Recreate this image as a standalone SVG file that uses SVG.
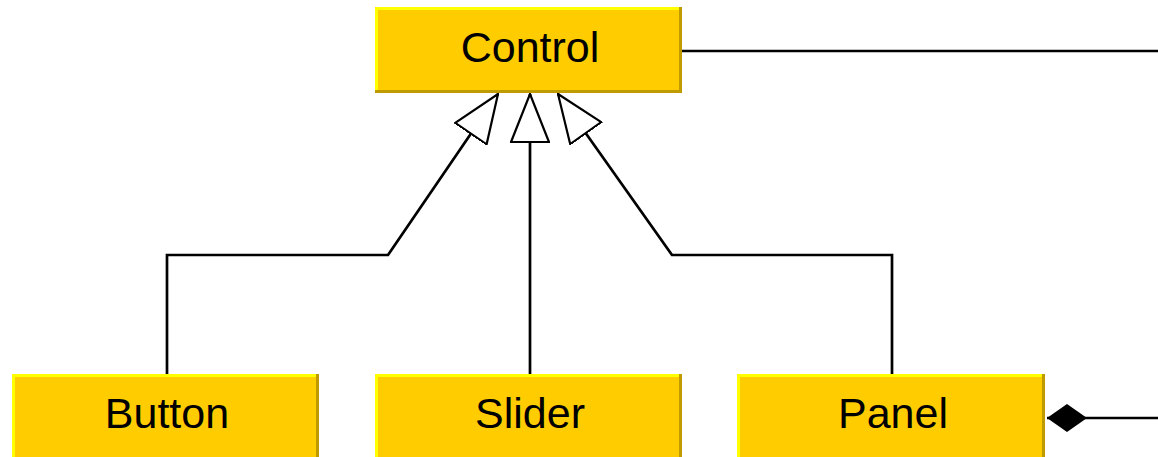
<svg xmlns="http://www.w3.org/2000/svg" width="1158" height="457" viewBox="0 0 1158 457">
<style>
.box{fill:#FFCC00}
.hi{stroke:#FFFF00;stroke-width:3;fill:none}
.sh{stroke:#BF9A00;stroke-width:3;fill:none}
.lbl{font-family:"Liberation Sans",Arial,sans-serif;font-size:43px;fill:#000;text-anchor:middle}
.ln{stroke:#000;stroke-width:2.7;fill:none}
.tri{fill:#fff;stroke:#000;stroke-width:2.2;stroke-linejoin:miter}
</style>
<defs>
<marker id="gen" viewBox="0 0 50 40" refX="49" refY="20" markerWidth="50" markerHeight="40" markerUnits="userSpaceOnUse" orient="auto">
<path d="M1,1 L49,20 L1,39 Z" class="tri"/>
</marker>
<marker id="comp" viewBox="0 0 42 32" refX="1" refY="16" markerWidth="42" markerHeight="32" markerUnits="userSpaceOnUse" orient="auto">
<path d="M1,16 L21,2 L41,16 L21,30 Z" fill="#000"/>
</marker>
</defs>
<g id="connectors">
<line class="ln" x1="682" y1="51" x2="1158" y2="51"/>
<polyline class="ln" points="167,374 167,255 388,255 498,94" marker-end="url(#gen)"/>
<line class="ln" x1="530" y1="374" x2="530" y2="94" marker-end="url(#gen)"/>
<polyline class="ln" points="892,374 892,255 672,255 558,94" marker-end="url(#gen)"/>
<line class="ln" x1="1047" y1="418" x2="1158" y2="418" marker-start="url(#comp)"/>
</g>
<g id="node-control">
<rect class="box" x="375" y="7" width="307" height="86"/>
<polyline class="hi" points="376.5,93 376.5,8.5 682,8.5"/>
<polyline class="sh" points="680.5,7 680.5,91.5 375,91.5"/>
<text class="lbl" x="530" y="62">Control</text>
</g>
<g id="node-button">
<rect class="box" x="12" y="374" width="307" height="90"/>
<polyline class="hi" points="13.5,464 13.5,375.5 319,375.5"/>
<line class="sh" x1="317.5" y1="374" x2="317.5" y2="464"/>
<text class="lbl" x="167" y="428">Button</text>
</g>
<g id="node-slider">
<rect class="box" x="375" y="374" width="307" height="90"/>
<polyline class="hi" points="376.5,464 376.5,375.5 682,375.5"/>
<line class="sh" x1="680.5" y1="374" x2="680.5" y2="464"/>
<text class="lbl" x="530" y="428">Slider</text>
</g>
<g id="node-panel">
<rect class="box" x="737" y="374" width="308" height="90"/>
<polyline class="hi" points="738.5,464 738.5,375.5 1045,375.5"/>
<line class="sh" x1="1043.5" y1="374" x2="1043.5" y2="464"/>
<text class="lbl" x="893" y="428">Panel</text>
</g>
</svg>
